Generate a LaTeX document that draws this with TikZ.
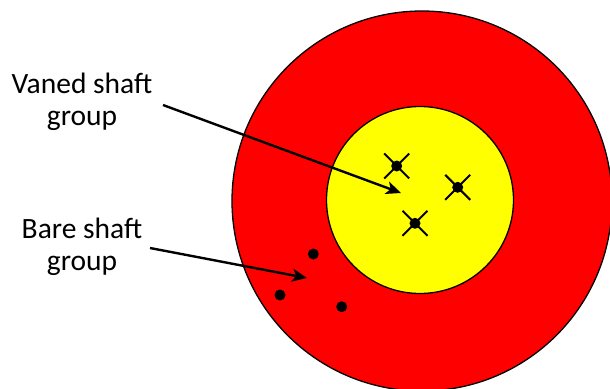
\documentclass[tikz,border=0pt]{standalone}
\usepackage{fontspec}
\setmainfont{Carlito}
\usetikzlibrary{arrows.meta}
\definecolor{tred}{RGB}{255,0,0}
\definecolor{tyellow}{RGB}{255,255,0}
\tikzset{
  ring/.style={draw=black,line width=1.3pt},
  pointer/.style={draw=black,line width=2.4pt,-{Stealth[length=15pt,width=13pt,inset=4pt]}},
  label/.style={align=center,font=\fontsize{29.5}{32}\selectfont,inner sep=0pt,anchor=base},
  hit/.style={circle,fill=black,inner sep=0pt,minimum size=11pt},
  vane/.style={draw=black,line width=2pt}
}
\begin{document}
\begin{tikzpicture}[x=1pt,y=-1pt]
\useasboundingbox (0,0) rectangle (610,388);
\begin{scope}
\clip (0,0) rectangle (610,388);
\draw[ring,fill=tred] (422,201) circle[radius=190];
\draw[ring,fill=tyellow] (420,200) circle[radius=93.5];
\end{scope}
% vaned hits
\foreach \n/\x/\y in {v1/396.7/166, v2/457.7/187.3, v3/415/223.3}{
  \draw[vane] (\x-12.5,\y-12.5) -- (\x+12.5,\y+12.5);
  \draw[vane] (\x-12.5,\y+12.5) -- (\x+12.5,\y-12.5);
  \node[hit] (\n) at (\x,\y) {};
}
% bare hits
\node[hit] (b1) at (313.3,254) {};
\node[hit] (b2) at (280,295) {};
\node[hit] (b3) at (341.7,306.7) {};
% labels
\node[label] (vlab) at (82,125) {Vaned shaft\\group};
\node[label] (blab) at (82,270) {Bare shaft\\group};
\coordinate (vstart) at (163,105);
\coordinate (vtip) at (401,193);
\coordinate (bstart) at (150,248);
\coordinate (btip) at (307,278);
\draw[pointer] (vstart) -- (vtip);
\draw[pointer] (bstart) -- (btip);
\end{tikzpicture}
\end{document}
